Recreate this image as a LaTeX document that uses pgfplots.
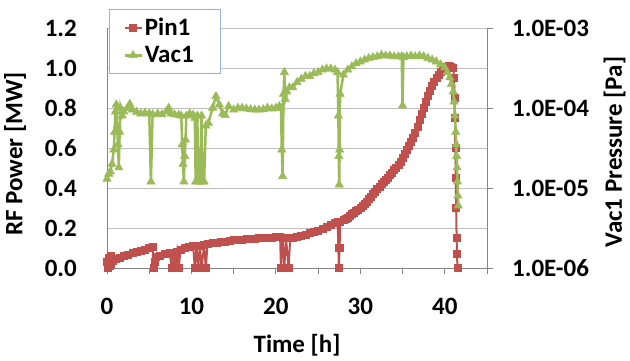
\documentclass[border=0pt]{standalone}
\usepackage{fontspec}
\setmainfont{Carlito}
\usepackage{pgfplots}
\usepackage{pgfplotstable}
\pgfplotsset{compat=1.18}
\definecolor{pinred}{HTML}{C0504D}
\definecolor{vacgreen}{HTML}{9BBB59}
\definecolor{axgray}{HTML}{868686}
\definecolor{gridgray}{HTML}{BFBFBF}
\definecolor{legblue}{HTML}{95B3D7}
\newcommand{\chartfont}{\fontsize{25bp}{30bp}\selectfont\bfseries}

\pgfplotstableread{
t P
0.0 0.03
0.1 0.0
0.2 0.05
0.3 0.01
0.4 0.06
0.5 0.02
0.7 0.035
1.0 0.045
1.5 0.05
2.0 0.06
2.5 0.065
3.0 0.075
3.5 0.08
4.0 0.085
4.5 0.09
5.0 0.1
5.4 0.105
5.5 0.0
5.6 0.03
5.8 0.055
6.3 0.06
6.8 0.07
7.4 0.075
7.7 0.0
7.9 0.06
8.1 0.0
8.3 0.08
8.5 0.0
8.7 0.09
9.2 0.1
9.7 0.105
10.2 0.11
10.4 0.0
10.6 0.11
10.8 0.0
11.0 0.11
11.2 0.0
11.5 0.115
11.7 0.0
11.9 0.12
12.5 0.125
13.0 0.125
13.5 0.13
14.0 0.13
14.5 0.135
15.0 0.14
15.5 0.14
16.0 0.14
16.5 0.145
17.0 0.145
17.5 0.145
18.0 0.15
18.5 0.15
19.0 0.15
19.5 0.15
20.0 0.155
20.5 0.155
20.6 0.0
20.8 0.15
21.0 0.0
21.2 0.15
21.5 0.0
21.7 0.15
22.0 0.15
22.5 0.155
23.0 0.16
23.5 0.165
24.0 0.175
24.5 0.18
25.0 0.185
25.5 0.195
26.0 0.205
26.5 0.215
27.0 0.225
27.3 0.23
27.4 0.1
27.45 0.0
27.55 0.1
27.6 0.23
28.0 0.24
28.25 0.245
28.5 0.25
28.75 0.26
29.0 0.27
29.25 0.275
29.5 0.285
29.75 0.29
30.0 0.30
30.25 0.31
30.5 0.32
30.75 0.33
31.0 0.345
31.25 0.355
31.5 0.37
31.75 0.38
32.0 0.395
32.25 0.405
32.5 0.42
32.75 0.43
33.0 0.44
33.25 0.45
33.5 0.465
33.75 0.475
34.0 0.49
34.25 0.50
34.5 0.515
34.75 0.53
35.0 0.55
35.25 0.57
35.5 0.59
35.75 0.61
36.0 0.63
36.25 0.65
36.5 0.675
36.75 0.705
37.0 0.74
37.25 0.77
37.5 0.80
37.75 0.83
38.0 0.86
38.25 0.885
38.5 0.91
38.75 0.93
39.0 0.95
39.25 0.965
39.5 0.98
39.75 0.99
40.0 1.0
40.25 1.005
40.5 1.01
40.75 1.005
41.0 1.0
41.1 0.95
41.15 0.85
41.2 0.75
41.25 0.6
41.3 0.45
41.35 0.3
41.4 0.15
41.45 0.07
41.5 0.0
}\pintable

\pgfplotstableread{
t p
0.0 1.3e-5
0.2 1.5e-5
0.4 1.6e-5
0.6 2.0e-5
0.8 3.0e-5
0.9 5.0e-5
1.0 9.0e-5
1.1 1.1e-4
1.2 6.0e-5
1.3 3.5e-5
1.4 1.8e-5
1.5 5.0e-5
1.6 1.0e-4
1.8 8.0e-5
2.0 9.0e-5
2.4 1.0e-4
2.7 1.12e-4
3.0 9.5e-5
3.5 8.9e-5
4.0 8.5e-5
4.5 8.7e-5
5.0 8.5e-5
5.2 1.2e-5
5.4 8.3e-5
6.0 8.5e-5
6.5 8.3e-5
7.0 9.0e-5
7.3 1.0e-4
7.6 8.5e-5
8.0 8.3e-5
8.5 8.2e-5
8.8 8.0e-5
8.9 3.5e-5
9.0 2.0e-5
9.1 1.2e-5
9.2 2.5e-5
9.3 4.0e-5
9.4 8.0e-5
9.8 8.5e-5
10.2 8.2e-5
10.4 7.5e-5
10.5 1.2e-5
10.7 8.0e-5
10.8 1.2e-5
11.0 1.2e-5
11.2 8.0e-5
11.3 1.2e-5
11.5 1.2e-5
11.7 6.0e-5
12.0 6.5e-5
12.5 1.0e-4
12.9 1.4e-4
13.3 1.1e-4
13.7 8.5e-5
14.0 8.1e-5
14.4 1.05e-4
15.0 9.5e-5
15.5 1.0e-4
16.0 1.0e-4
16.5 9.8e-5
17.0 9.6e-5
17.5 9.5e-5
18.0 9.5e-5
18.5 9.6e-5
19.0 1.0e-4
19.5 9.8e-5
20.0 1.0e-4
20.4 1.05e-4
20.6 1.0e-4
20.7 3.0e-5
20.8 1.4e-5
20.9 1.5e-4
21.0 2.8e-4
21.1 1.3e-4
21.3 1.6e-4
21.6 1.8e-4
22.0 1.8e-4
22.5 2.1e-4
23.0 2.3e-4
23.5 2.5e-4
24.0 2.5e-4
24.5 2.7e-4
25.0 2.8e-4
25.5 3.0e-4
26.0 3.1e-4
26.5 3.1e-4
27.0 3.0e-4
27.3 2.8e-4
27.4 8.0e-5
27.45 2.5e-5
27.5 1.1e-5
27.55 3.0e-5
27.6 1.5e-4
28.0 2.6e-4
28.5 3.0e-4
29.0 3.3e-4
29.5 3.6e-4
30.0 3.8e-4
30.5 4.0e-4
31.0 4.2e-4
31.5 4.3e-4
32.0 4.4e-4
32.5 4.6e-4
33.0 4.5e-4
33.5 4.5e-4
34.0 4.4e-4
34.5 4.4e-4
34.9 4.4e-4
35.0 1.07e-4
35.1 4.3e-4
35.5 4.4e-4
36.0 4.5e-4
36.5 4.4e-4
37.0 4.5e-4
37.5 4.4e-4
38.0 4.2e-4
38.5 4.0e-4
39.0 3.8e-4
39.5 3.5e-4
40.0 3.2e-4
40.3 2.8e-4
40.6 2.4e-4
40.8 2.0e-4
41.0 1.6e-4
41.1 1.2e-4
41.2 8.0e-5
41.3 5.0e-5
41.35 3.5e-5
41.4 2.5e-5
41.45 1.8e-5
41.5 1.2e-5
41.55 8.0e-6
41.6 6.0e-6
}\vactable

\pgfplotsset{
  pinstyle/.style={pinred, line width=2bp, mark=square*, mark size=3.5bp, mark options={solid, fill=pinred, draw=pinred, line width=0.5bp}},
  vacstyle/.style={vacgreen, line width=2.5bp, mark=triangle*, mark size=4.8bp, mark options={solid, fill=vacgreen, draw=vacgreen, line width=0.5bp}},
  chartbase/.style={scale only axis, width=380bp, height=240bp, xmin=0, xmax=45,
    tick label style={font=\chartfont}, label style={font=\chartfont},
    /pgf/number format/assume math mode=true,
    axis line style={axgray, line width=0.8bp, -},
    tick align=outside, major tick length=6bp,
    every tick/.style={axgray, line width=0.8bp}},
}

\begin{document}
\begin{tikzpicture}
\begin{axis}[chartbase, name=main,
  ymin=0, ymax=1.2,
  axis x line*=bottom, axis y line*=left,
  xtick={0,5,10,15,20,25,30,35,40,45},
  xticklabels={0,,10,,20,,30,,40,},
  ytick={0,0.2,0.4,0.6,0.8,1.0,1.2},
  ymajorgrids, grid style={gridgray, line width=0.8bp},
  ytick style={draw=none},
  yticklabel style={/pgf/number format/.cd, fixed, fixed zerofill, precision=1, /tikz/.cd, anchor=east, inner sep=0pt, xshift=-24bp},
  xticklabel style={anchor=center, inner sep=0pt, yshift=-32bp},
  xlabel={Time [h]},
  xlabel style={at={(axis description cs:0.5,-0.32)}, anchor=center},
  ylabel={RF Power [MW]},
  ylabel style={at={(axis description cs:-0.242,0.475)}, anchor=center},
]
\addplot[pinstyle] table[x=t, y=P] {\pintable};
\end{axis}
\begin{axis}[chartbase,
  ymode=log, ymin=1e-6, ymax=1e-3,
  axis y line*=right, axis x line=none,
  ytick={1e-6,1e-5,1e-4,1e-3},
  yticklabels={1.0E-06,1.0E-05,1.0E-04,1.0E-03},
  yminorticks=false,
  yticklabel style={anchor=west, inner sep=0pt, xshift=19bp},
  ylabel={Vac1 Pressure [Pa]},
  ylabel style={at={(axis description cs:1.336,0.483)}, anchor=center, inner sep=0pt},
  legend style={at={(axis description cs:0.005,1.079)}, anchor=north west,
    draw=legblue, line width=0.8bp, fill=white, font=\chartfont,
    inner xsep=14bp, inner ysep=7bp, row sep=5bp,
    nodes={inner sep=2bp}},
  legend cell align=left,
  legend image code/.code={\draw[mark repeat=2, mark phase=2] plot coordinates {(0bp,0bp) (8.5bp,0bp) (17bp,0bp)};},
]
\addlegendimage{pinstyle}
\addlegendentry{\makebox[60bp][l]{Pin1}}
\addplot[vacstyle] table[x=t, y=p] {\vactable};
\addlegendentry{\makebox[60bp][l]{Vac1}}
\end{axis}
\pgfresetboundingbox
\path[use as bounding box] ([shift={(-107bp,-93bp)}]main.south west) rectangle ([shift={(143bp,28bp)}]main.north east);
\end{tikzpicture}
\end{document}
